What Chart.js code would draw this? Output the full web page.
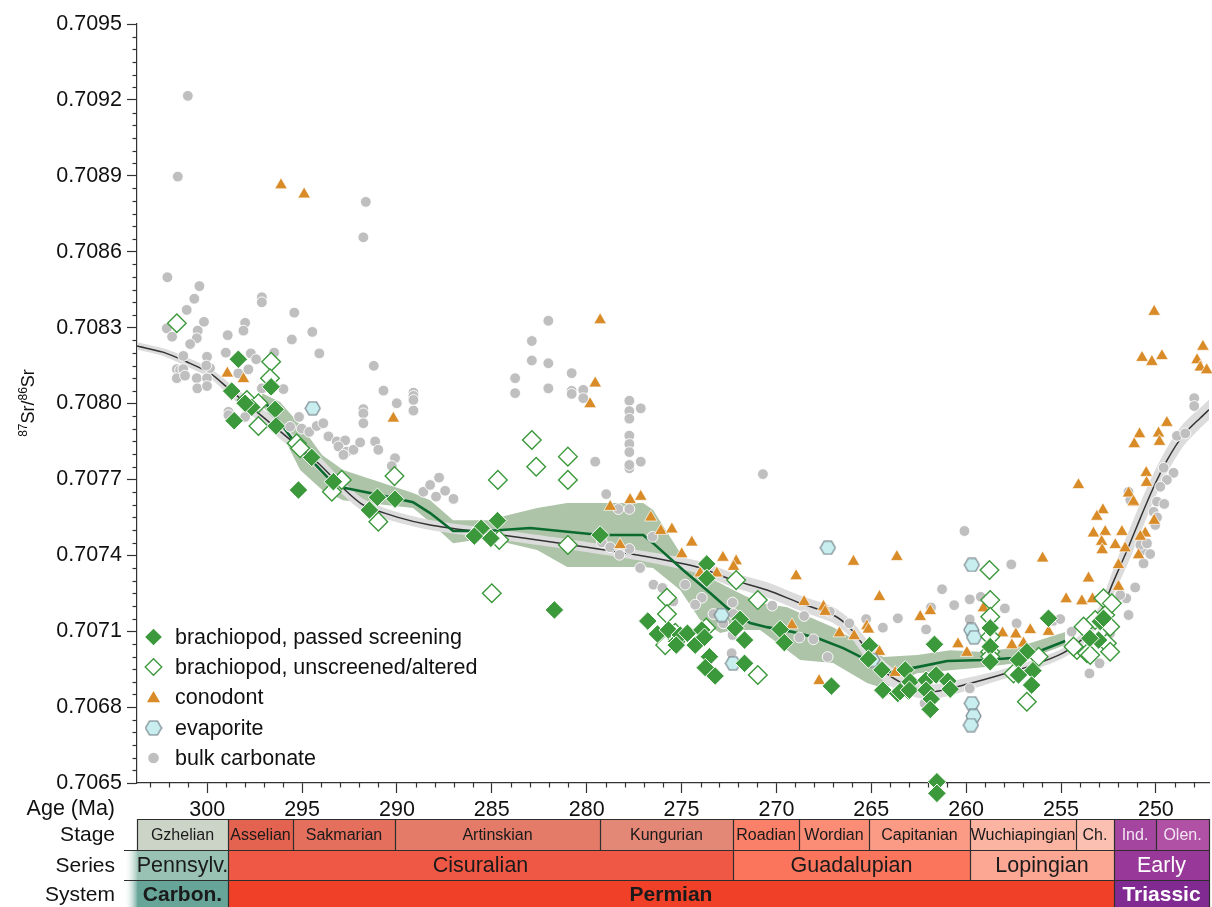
<!DOCTYPE html>
<html>
<head>
<meta charset="utf-8">
<title>Permian seawater 87Sr/86Sr</title>
<script src="https://cdn.jsdelivr.net/npm/chart.js@4.4.0/dist/chart.umd.min.js"></script>
<style>
  html, body { margin: 0; padding: 0; background: #ffffff; }
  #wrap { width: 1212px; height: 907px; position: relative; }
  canvas { display: block; }
</style>
</head>
<body>
<div id="wrap"><canvas id="c" width="1212" height="907"></canvas></div>
<script>
// ---- axis ticks ----
const xTickLabels = [300, 295, 290, 285, 280, 275, 270, 265, 260, 255, 250];
const yTickLabels = ['0.7065', '0.7068', '0.7071', '0.7074', '0.7077', '0.7080', '0.7083', '0.7086', '0.7089', '0.7092', '0.7095'];
const ageMin = 247.2, ageMax = 303.7;

// ---- geologic time scale (Ma) ----
const stageNames  = ['Gzhelian', 'Asselian', 'Sakmarian', 'Artinskian', 'Kungurian', 'Roadian', 'Wordian', 'Capitanian', 'Wuchiapingian', 'Ch.', 'Ind.', 'Olen.'];
const stageBounds = [303.7, 298.9, 295.5, 290.1, 279.3, 272.3, 268.8, 265.1, 259.8, 254.2, 252.2, 250.0, 247.2];
const seriesNames  = ['Pennsylv.', 'Cisuralian', 'Guadalupian', 'Lopingian', 'Early'];
const seriesBounds = [303.7, 298.9, 272.3, 259.8, 252.2, 247.2];
const systemNames  = ['Carbon.', 'Permian', 'Triassic'];
const systemBounds = [303.7, 298.9, 252.2, 247.2];

// ---- samples: [age Ma, 87Sr/86Sr] ----
const brachiopodPassed = [
  [298.36,0.708175],[298.71,0.708049],[296.63,0.708066],[297.65,0.707985],[298.00,0.708001],[296.42,0.707977],
  [298.58,0.707932],[296.37,0.707911],[294.49,0.707787],[295.19,0.707658],[293.35,0.707691],[291.03,0.707629],
  [290.10,0.707622],[291.45,0.707579],[284.70,0.707537],[285.56,0.707507],[285.05,0.707467],[285.92,0.707476],
  [279.29,0.707480],[281.70,0.707184],[273.67,0.707366],[273.67,0.707309],[276.78,0.707140],[276.27,0.707089],
  [275.69,0.707105],[275.25,0.707059],[275.07,0.707085],[274.69,0.707092],[274.28,0.707045],[273.93,0.707105],
  [273.79,0.707076],[275.28,0.707045],[271.91,0.707147],[272.17,0.707112],[271.68,0.707065],[273.53,0.706999],
  [273.75,0.706956],[273.23,0.706923],[271.68,0.706973],[269.80,0.707107],[269.58,0.707055],[265.09,0.707043],
  [265.15,0.706990],[264.44,0.706947],[264.39,0.706867],[263.60,0.706854],[267.10,0.706883],[263.21,0.706947],
  [262.95,0.706900],[263.48,0.706861],[262.99,0.706867],[262.11,0.706906],[261.58,0.706927],[262.11,0.706867],
  [261.84,0.706832],[261.89,0.706791],[260.96,0.706903],[260.84,0.706871],[261.54,0.706505],[261.54,0.706459],
  [261.67,0.707048],[258.73,0.707113],[258.73,0.707039],[258.73,0.706979],[256.80,0.707019],[257.24,0.706986],
  [256.48,0.706944],[257.24,0.706927],[256.55,0.706887],[255.66,0.707151],[252.93,0.707138],[253.02,0.707065],
  [253.48,0.707072],[252.76,0.707151]
];
const brachiopodUnscreened = [
  [301.60,0.708317],[296.63,0.708165],[296.69,0.708100],[297.91,0.708014],[297.30,0.708001],[297.30,0.707911],
  [295.28,0.707843],[295.10,0.707823],[293.43,0.707651],[292.91,0.707698],[290.13,0.707713],[290.98,0.707533],
  [282.89,0.707856],[284.68,0.707698],[282.66,0.707750],[280.99,0.707790],[280.99,0.707698],[280.99,0.707441],
  [285.00,0.707250],[284.61,0.707461],[275.77,0.707232],[275.77,0.707168],[275.86,0.707045],[275.33,0.707094],
  [274.19,0.707065],[273.70,0.707114],[272.12,0.707302],[270.98,0.707223],[270.98,0.706927],[258.77,0.707342],
  [258.73,0.707223],[258.73,0.707157],[258.73,0.707078],[258.73,0.707019],[258.73,0.706999],[263.04,0.706870],
  [256.80,0.706821],[257.50,0.706933],[256.18,0.706999],[252.76,0.707230],[254.16,0.707026],[253.63,0.707013],
  [252.58,0.707052],[252.41,0.707019],[252.67,0.707164],[253.20,0.707144],[252.32,0.707210],[253.81,0.707118],
  [252.41,0.707118],[254.34,0.707039],[253.46,0.707006]
];
const conodont = [
  [296.11,0.708863],[294.89,0.708827],[298.94,0.708119],[298.09,0.708097],[290.19,0.707941],[279.29,0.708330],
  [279.55,0.708080],[279.82,0.707998],[278.76,0.707592],[277.71,0.707619],[277.15,0.707632],[276.62,0.707550],
  [276.09,0.707497],[275.51,0.707503],[274.46,0.707451],[274.99,0.707405],[278.24,0.707441],[274.02,0.707329],
  [273.14,0.707329],[272.82,0.707391],[272.12,0.707377],[272.26,0.707355],[268.96,0.707318],[265.94,0.707375],
  [263.65,0.707394],[268.54,0.707216],[267.52,0.707197],[267.43,0.707177],[264.57,0.707236],[269.18,0.707124],
  [266.68,0.707092],[265.90,0.707081],[265.23,0.707120],[265.15,0.707107],[264.57,0.707019],[267.75,0.706904],
  [263.74,0.706936],[261.89,0.707180],[262.42,0.707157],[260.43,0.707049],[259.96,0.707015],[255.97,0.707388],
  [254.73,0.707227],[253.90,0.707219],[253.34,0.707227],[258.08,0.707092],[257.38,0.707088],[256.62,0.707105],
  [257.59,0.707045],[256.98,0.707052],[255.66,0.707098],[259.09,0.707191],[253.55,0.707309],[251.97,0.707362],
  [251.97,0.707276],[252.79,0.707579],[253.11,0.707553],[253.29,0.707487],[252.67,0.707493],[251.79,0.707493],
  [252.86,0.707454],[252.83,0.707421],[252.14,0.707441],[251.62,0.707428],[251.18,0.707608],[250.91,0.707401],
  [250.56,0.707487],[250.09,0.708363],[250.73,0.708181],[250.21,0.708165],[249.68,0.708188],[247.52,0.708225],
  [247.83,0.708172],[247.66,0.708143],[247.32,0.708132],[249.42,0.707924],[250.86,0.707879],[251.14,0.707840],
  [249.86,0.707882],[249.81,0.707849],[254.08,0.707678],[250.51,0.707726],[250.49,0.707687],[251.44,0.707645],
  [251.18,0.707612],[250.09,0.707537],[250.82,0.707474]
];
const evaporite = [
  [294.44,0.707981],[267.29,0.707430],[272.88,0.707164],[272.29,0.706973],[259.70,0.707362],[259.73,0.707105],
  [259.58,0.707076],[259.70,0.706815],[259.61,0.706765],[259.75,0.706729],[264.95,0.706986]
];
const bulkCarbonate = [
  [301.02,0.709216],[301.55,0.708897],[291.64,0.708797],[291.77,0.708657],[302.10,0.708499],[300.41,0.708464],
  [300.68,0.708414],[301.08,0.708370],[297.12,0.708420],[297.12,0.708400],[295.41,0.708359],[298.00,0.708319],
  [298.09,0.708288],[302.13,0.708297],[301.85,0.708264],[300.50,0.708288],[300.55,0.708258],[300.17,0.708323],
  [298.92,0.708270],[295.54,0.708253],[294.46,0.708283],[294.09,0.708198],[300.90,0.708235],[301.26,0.708188],
  [300.01,0.708185],[299.02,0.708201],[297.70,0.708198],[297.42,0.708175],[296.47,0.708201],[301.60,0.708136],
  [301.43,0.708132],[301.26,0.708136],[301.60,0.708100],[301.17,0.708110],[300.55,0.708100],[300.52,0.708060],
  [300.01,0.708100],[300.01,0.708069],[299.85,0.708140],[300.05,0.708150],[297.83,0.708135],[298.36,0.708119],
  [297.12,0.708060],[295.98,0.708057],[291.22,0.708149],[290.71,0.708051],[290.01,0.708001],[289.13,0.708043],
  [289.13,0.708030],[289.13,0.708014],[289.13,0.707972],[291.77,0.707978],[291.77,0.707961],[291.77,0.707922],
  [298.88,0.707967],[298.88,0.707954],[298.00,0.707947],[295.16,0.707947],[295.63,0.707908],[295.02,0.707901],
  [294.62,0.707888],[294.23,0.707911],[293.88,0.707922],[293.61,0.707870],[293.17,0.707850],[292.73,0.707854],
  [293.08,0.707830],[292.64,0.707810],[292.82,0.707797],[292.29,0.707817],[291.94,0.707846],[291.15,0.707850],
  [290.98,0.707817],[290.10,0.707784],[290.27,0.707753],[288.61,0.707651],[288.25,0.707678],
  [282.02,0.708327],[282.89,0.708247],[282.89,0.708170],[282.02,0.708159],[280.79,0.708120],[283.77,0.708100],
  [283.77,0.708041],[282.02,0.708060],[280.79,0.708050],[280.79,0.708038],[280.18,0.708054],[280.18,0.708021],
  [277.75,0.708011],[277.75,0.707970],[277.75,0.707940],[277.15,0.707981],[277.75,0.707873],[277.75,0.707840],
  [277.75,0.707808],[277.75,0.707744],[277.75,0.707757],[277.15,0.707770],[279.55,0.707770],[278.97,0.707642],
  [287.78,0.707707],[287.94,0.707632],[287.46,0.707655],[287.02,0.707623],[278.33,0.707583],[277.75,0.707583],
  [279.20,0.707451],[278.76,0.707432],[278.27,0.707402],[277.75,0.707425],[277.18,0.707350],[276.53,0.707473],
  [276.48,0.707284],[276.01,0.707271],[274.81,0.707284],[273.93,0.707232],[274.28,0.707205],[275.43,0.707218],
  [270.71,0.707721],[272.31,0.707213],[273.32,0.707168],[272.80,0.707131],[272.26,0.707168],[272.36,0.707013],
  [272.31,0.707085],[270.22,0.707201],[268.54,0.707160],[268.79,0.707075],[268.05,0.707068],[267.30,0.706998],
  [267.18,0.707177],[266.16,0.707131],[265.27,0.707148],[264.39,0.707114],[263.60,0.707151],
  [260.09,0.707496],[257.62,0.707364],[261.27,0.707266],[260.63,0.707203],[259.81,0.707226],[259.23,0.707236],
  [261.85,0.707194],[262.11,0.707107],[259.81,0.707147],[257.96,0.707190],[257.34,0.707131],[255.41,0.707141],
  [254.44,0.707098],[259.81,0.706874],[262.19,0.706815],[252.97,0.706973],[253.50,0.706933],[252.41,0.707092],
  [251.56,0.707230],[251.44,0.707164],[251.09,0.707273],[250.65,0.707421],[250.65,0.707447],
  [247.98,0.708021],[247.98,0.707990],[248.89,0.707872],[248.45,0.707882],[249.59,0.707746],[249.07,0.707726],
  [249.42,0.707698],[249.77,0.707671],[251.44,0.707651],[251.35,0.707619],[249.94,0.707612],[249.56,0.707603],
  [250.12,0.707572],[249.94,0.707550],[250.03,0.707520],[250.82,0.707441],[250.47,0.707447],[250.30,0.707405],
  [250.65,0.707368],[251.88,0.707243],[255.04,0.707148]
];

// ---- smoothed trend (all data) with confidence band ----
const lowessAge   = [303.70,302.33,301.06,299.85,298.79,297.05,295.79,294.21,292.84,291.78,289.99,288.25,285.25,281.40,277.34,274.18,272.28,270.49,268.75,267.01,266.11,265.22,264.16,262.58,261.52,259.94,258.20,256.47,254.88,253.83,252.93,252.25,251.51,250.82,250.14,249.40,248.56,247.66,247.20];
const lowessMid   = [0.708227,0.708203,0.708164,0.708120,0.708053,0.707946,0.707867,0.707769,0.707666,0.707599,0.707551,0.707520,0.707488,0.707448,0.707401,0.707354,0.707302,0.707263,0.707211,0.707164,0.707112,0.707025,0.706931,0.706867,0.706863,0.706891,0.706927,0.706966,0.707014,0.707073,0.707172,0.707294,0.707421,0.707547,0.707666,0.707777,0.707875,0.707943,0.707975];
const lowessUpper = [0.708242,0.708218,0.708182,0.708140,0.708078,0.707976,0.707897,0.707799,0.707694,0.707624,0.707571,0.707540,0.707508,0.707468,0.707421,0.707379,0.707330,0.707293,0.707241,0.707196,0.707147,0.707065,0.706971,0.706897,0.706891,0.706916,0.706947,0.706986,0.707034,0.707098,0.707207,0.707344,0.707481,0.707607,0.707721,0.707827,0.707920,0.707983,0.708015];
const lowessLower = [0.708212,0.708188,0.708146,0.708100,0.708028,0.707916,0.707837,0.707739,0.707638,0.707574,0.707531,0.707500,0.707468,0.707428,0.707381,0.707329,0.707274,0.707233,0.707181,0.707132,0.707077,0.706985,0.706891,0.706837,0.706835,0.706866,0.706907,0.706946,0.706994,0.707048,0.707137,0.707244,0.707361,0.707487,0.707611,0.707727,0.707830,0.707903,0.707935];

// ---- brachiopod-only curve with its band ----
const brachAge = [296.95,295.37,293.52,292.73,290.89,289.15,288.25,287.04,285.25,282.98,279.29,277.02,276.50,274.92,273.49,272.60,271.38,270.49,269.12,267.85,266.48,265.22,264.00,262.58,261.00,259.10,257.52,256.25,254.78];
const brachMid = [0.708006,0.707844,0.707697,0.707666,0.707638,0.707610,0.707567,0.707496,0.707496,0.707508,0.707480,0.707480,0.707448,0.707342,0.707251,0.707192,0.707132,0.707116,0.707097,0.707073,0.707033,0.706986,0.706938,0.706958,0.706982,0.706986,0.706994,0.707018,0.707061];
const brachBandAge   = [297.11,296.16,295.10,293.94,292.84,289.15,288.25,287.04,285.25,282.61,281.03,277.02,276.50,275.07,274.02,272.96,272.28,270.86,269.43,268.75,267.01,265.22,264.37,262.58,260.84,259.10,257.31,254.78];
const brachBandUpper = [0.708041,0.708006,0.707915,0.707796,0.707737,0.707646,0.707618,0.707539,0.707539,0.707587,0.707607,0.707607,0.707579,0.707409,0.707330,0.707290,0.707263,0.707211,0.707195,0.707172,0.707116,0.707037,0.706998,0.707006,0.707025,0.707018,0.707037,0.707097];
const brachBandLower = [0.707994,0.707895,0.707737,0.707658,0.707618,0.707587,0.707531,0.707448,0.707467,0.707421,0.707354,0.707354,0.707350,0.707263,0.707144,0.707093,0.707105,0.707105,0.707025,0.706986,0.706974,0.706895,0.706875,0.706934,0.706946,0.706958,0.706974,0.707045];

// ---- colours ----
const stageColors  = ['#ccd4c7','#e36350','#e36f5c','#e37b68','#e38776','#fb8069','#fb8d76','#fb9a85','#fcb4a2','#fcc0b2','#a4469f','#b051a5'];
const stageText    = ['#1a1a1a','#1a1a1a','#1a1a1a','#1a1a1a','#1a1a1a','#1a1a1a','#1a1a1a','#1a1a1a','#1a1a1a','#1a1a1a','#f2e6f2','#f2e6f2'];
const seriesColors = ['#99c2b5','#ef5845','#fb745c','#fba794','#983999'];
const seriesText   = ['#1a1a1a','#1a1a1a','#1a1a1a','#1a1a1a','#ffffff'];
const systemColors = ['#67a599','#f04028','#812b92'];
const systemText   = ['#1a1a1a','#1a1a1a','#ffffff'];

const GREEN = '#3b983b';
const ORANGE = '#d98b27';
const GREY = '#bfbfbf';
const FONT = "'Liberation Sans', Arial, Helvetica, sans-serif";
Chart.defaults.font.family = FONT;

const pairs = arr => arr.map(p => ({ x: p[0], y: p[1] }));
const zipXY = (xs, ys) => xs.map((x, i) => ({ x: x, y: ys[i] }));

// hexagon marker for evaporites
function hexMarker(w, h) {
  const c = document.createElement('canvas');
  c.width = w; c.height = h;
  const g = c.getContext('2d');
  const cx = w / 2, cy = h / 2, rx = w / 2 - 1, ry = h / 2 - 1;
  g.beginPath();
  g.moveTo(cx - rx, cy);
  g.lineTo(cx - rx / 2, cy - ry);
  g.lineTo(cx + rx / 2, cy - ry);
  g.lineTo(cx + rx, cy);
  g.lineTo(cx + rx / 2, cy + ry);
  g.lineTo(cx - rx / 2, cy + ry);
  g.closePath();
  g.fillStyle = '#c8eef0';
  g.fill();
  g.lineWidth = 1.1;
  g.strokeStyle = '#6c7a80';
  g.stroke();
  return c;
}
const hexImg = hexMarker(17, 15);
const hexLegend = hexMarker(18, 16);

// a wide hover radius keeps samples just past the frame from being culled
const datasets = [
  { label: 'brachiopod, passed screening', data: pairs(brachiopodPassed), pointStyle: 'rectRot', pointRadius: 9.3,
    pointHoverRadius: 16, backgroundColor: GREEN, borderColor: '#ffffff', borderWidth: 1, order: 0, clip: false },
  { label: 'brachiopod, unscreened/altered', data: pairs(brachiopodUnscreened), pointStyle: 'rectRot', pointRadius: 9.3,
    pointHoverRadius: 16, backgroundColor: '#ffffff', borderColor: GREEN, borderWidth: 1.4, order: 1, clip: false },
  { label: 'evaporite', data: pairs(evaporite), pointStyle: hexImg, pointHoverRadius: 16, order: 2, clip: false },
  { label: 'conodont', data: pairs(conodont), pointStyle: 'triangle', pointRadius: 7.3, pointHoverRadius: 16,
    backgroundColor: ORANGE, borderColor: 'rgba(255,255,255,0.85)', borderWidth: 0.8, order: 3, clip: false },
  { label: 'bulk carbonate', data: pairs(bulkCarbonate), pointStyle: 'circle', pointRadius: 5.4, pointHoverRadius: 16,
    backgroundColor: GREY, borderColor: '#ffffff', borderWidth: 0.9, order: 4, clip: false },
  // brachiopod curve
  { label: 'brach', data: zipXY(brachAge, brachMid), showLine: true, pointRadius: 0, borderColor: '#0b6a2e',
    borderWidth: 2.6, fill: false, order: 7 },
  // overall trend
  { label: 'trend', data: zipXY(lowessAge, lowessMid), showLine: true, pointRadius: 0, borderColor: '#333333',
    borderWidth: 1.5, tension: 0.25, fill: false, order: 8 },
  { label: 'trendLo', data: zipXY(lowessAge, lowessLower), showLine: true, pointRadius: 0, borderWidth: 0,
    borderColor: 'rgba(0,0,0,0)', tension: 0.25, fill: false, order: 9 },
  { label: 'trendHi', data: zipXY(lowessAge, lowessUpper), showLine: true, pointRadius: 0, borderWidth: 0,
    borderColor: 'rgba(0,0,0,0)', tension: 0.25, fill: '-1', backgroundColor: '#dcdcdc', order: 9 },
  { label: 'brachLo', data: zipXY(brachBandAge, brachBandLower), showLine: true, pointRadius: 0, borderWidth: 0,
    borderColor: 'rgba(0,0,0,0)', fill: false, order: 10 },
  { label: 'brachHi', data: zipXY(brachBandAge, brachBandUpper), showLine: true, pointRadius: 0, borderWidth: 0,
    borderColor: 'rgba(0,0,0,0)', fill: '-1', backgroundColor: '#adc4a8', order: 10 }
];

function line(ctx, x0, y0, x1, y1) {
  ctx.beginPath(); ctx.moveTo(x0, y0); ctx.lineTo(x1, y1); ctx.stroke();
}

// white page
const backdrop = {
  id: 'backdrop',
  beforeDraw(chart) {
    const ctx = chart.ctx;
    ctx.save();
    ctx.fillStyle = '#ffffff';
    ctx.fillRect(0, 0, chart.width, chart.height);
    ctx.restore();
  }
};

// minor ticks, axis title, legend and the time-scale columns
const decorations = {
  id: 'decorations',
  afterDraw(chart) {
    const ctx = chart.ctx;
    const area = chart.chartArea;
    const xs = chart.scales.x, ys = chart.scales.y;
    ctx.save();

    // minor ticks
    ctx.strokeStyle = '#333333';
    ctx.lineWidth = 1.2;
    for (let a = 248; a <= 303; a++) {
      if (a % 5 === 0) continue;
      const px = Math.round(xs.getPixelForValue(a)) + 0.5;
      line(ctx, px, area.bottom, px, area.bottom + 4.5);
    }
    for (let k = 0; k <= 60; k++) {
      if (k % 6 === 0) continue;
      const py = Math.round(ys.getPixelForValue(0.7065 + k * 0.00005)) + 0.5;
      line(ctx, area.left - 4.5, py, area.left, py);
    }

    // y axis title 87Sr/86Sr
    ctx.save();
    ctx.translate(34, 403);
    ctx.rotate(-Math.PI / 2);
    ctx.fillStyle = '#111111';
    ctx.textBaseline = 'alphabetic';
    const parts = [['87', 12, -7.5], ['Sr/', 18, 0], ['86', 12, -7.5], ['Sr', 18, 0]];
    let total = 0;
    parts.forEach(p => { ctx.font = p[1] + 'px ' + FONT; total += ctx.measureText(p[0]).width; });
    let cx = -total / 2;
    parts.forEach(p => {
      ctx.font = p[1] + 'px ' + FONT;
      ctx.fillText(p[0], cx, p[2]);
      cx += ctx.measureText(p[0]).width;
    });
    ctx.restore();

    // legend
    const legendRows = [
      ['passed', 'brachiopod, passed screening', 637],
      ['open', 'brachiopod, unscreened/altered', 667],
      ['tri', 'conodont', 697.5],
      ['hex', 'evaporite', 728],
      ['dot', 'bulk carbonate', 758]
    ];
    legendRows.forEach(r => {
      const mx = 153.5, my = r[2];
      ctx.beginPath();
      if (r[0] === 'passed' || r[0] === 'open') {
        const s = 8.3;
        ctx.moveTo(mx - s, my); ctx.lineTo(mx, my - s); ctx.lineTo(mx + s, my); ctx.lineTo(mx, my + s); ctx.closePath();
        if (r[0] === 'passed') { ctx.fillStyle = GREEN; ctx.fill(); }
        else { ctx.fillStyle = '#ffffff'; ctx.fill(); ctx.lineWidth = 1.3; ctx.strokeStyle = GREEN; ctx.stroke(); }
      } else if (r[0] === 'tri') {
        const s = 7.6;
        ctx.moveTo(mx, my - s + 1); ctx.lineTo(mx + s * 0.866, my + s * 0.5 + 1); ctx.lineTo(mx - s * 0.866, my + s * 0.5 + 1); ctx.closePath();
        ctx.fillStyle = ORANGE; ctx.fill();
      } else if (r[0] === 'hex') {
        ctx.drawImage(hexLegend, mx - hexLegend.width / 2, my - hexLegend.height / 2);
      } else {
        ctx.arc(mx, my, 5.3, 0, Math.PI * 2);
        ctx.fillStyle = GREY; ctx.fill();
      }
      ctx.fillStyle = '#111111';
      ctx.font = '21.5px ' + FONT;
      ctx.textAlign = 'left';
      ctx.textBaseline = 'middle';
      ctx.fillText(r[1], 175, my + 1);
    });

    // row captions
    ctx.fillStyle = '#111111';
    ctx.font = '21.5px ' + FONT;
    ctx.textAlign = 'right';
    ctx.textBaseline = 'middle';
    ctx.fillText('Age (Ma)', 115, 809);
    ctx.font = '21px ' + FONT;
    ctx.fillText('Stage', 115, 835);
    ctx.fillText('Series', 115, 866);
    ctx.fillText('System', 115, 895);

    // time-scale rows
    const rowTop = [819, 850, 880];
    const rowBot = [850, 880, 909];
    function drawRow(names, bounds, colors, textColors, top, bot, font, fade) {
      for (let i = 0; i < names.length; i++) {
        const x0 = Math.round(xs.getPixelForValue(bounds[i]));
        const x1 = Math.round(xs.getPixelForValue(bounds[i + 1]));
        ctx.fillStyle = colors[i];
        ctx.fillRect(x0, top, x1 - x0, bot - top);
        if (fade && i === 0) {
          const g = ctx.createLinearGradient(124, 0, x0 + 1, 0);
          g.addColorStop(0, 'rgba(255,255,255,0)');
          g.addColorStop(1, colors[0]);
          ctx.fillStyle = g;
          ctx.fillRect(124, top, x0 + 1 - 124, bot - top);
        }
        ctx.fillStyle = textColors[i];
        ctx.font = font;
        ctx.textAlign = 'center';
        ctx.textBaseline = 'middle';
        ctx.fillText(names[i], (x0 + x1) / 2, (top + bot) / 2 + 1);
      }
      ctx.strokeStyle = '#2e2e2e';
      ctx.lineWidth = 1.2;
      for (let i = fade ? 1 : 0; i < bounds.length; i++) {
        const px = Math.round(xs.getPixelForValue(bounds[i])) + 0.5;
        line(ctx, px, top, px, bot);
      }
      const xl = Math.round(xs.getPixelForValue(bounds[0]));
      const xr = Math.round(xs.getPixelForValue(bounds[bounds.length - 1]));
      line(ctx, fade ? 124 : xl, top + 0.5, xr, top + 0.5);
    }
    drawRow(stageNames, stageBounds, stageColors, stageText, rowTop[0], rowBot[0], '16px ' + FONT, false);
    drawRow(seriesNames, seriesBounds, seriesColors, seriesText, rowTop[1], rowBot[1], '21.5px ' + FONT, true);
    drawRow(systemNames, systemBounds, systemColors, systemText, rowTop[2], rowBot[2], 'bold 21px ' + FONT, true);
    // restore the stage/series dividing line over the faded edge
    ctx.strokeStyle = '#2e2e2e';
    line(ctx, Math.round(xs.getPixelForValue(stageBounds[0])), 850.5, Math.round(xs.getPixelForValue(ageMin)), 850.5);

    ctx.restore();
  }
};

// keep the plot frame exactly where it belongs, no label-driven padding
function fixPadding(s) {
  s.paddingLeft = 0; s.paddingRight = 0; s.paddingTop = 0; s.paddingBottom = 0;
}

new Chart(document.getElementById('c'), {
  type: 'scatter',
  data: { datasets: datasets },
  options: {
    responsive: false,
    animation: false,
    events: [],
    layout: { autoPadding: false, padding: { top: 24, right: 3, left: 0, bottom: 0 } },
    plugins: { legend: { display: false }, tooltip: { enabled: false } },
    scales: {
      x: {
        type: 'linear',
        reverse: true,
        min: ageMin,
        max: ageMax,
        afterBuildTicks: s => { s.ticks = xTickLabels.map(v => ({ value: v })); },
        afterFit: s => { s.height = 124; fixPadding(s); },
        ticks: { font: { size: 21.5 }, color: '#111111', padding: 4, maxRotation: 0, autoSkip: false,
          callback: v => String(v) },
        grid: { drawOnChartArea: false, drawTicks: true, tickLength: 10, tickWidth: 1.2, tickColor: '#333333' },
        border: { display: true, color: '#333333', width: 1.2 }
      },
      y: {
        type: 'linear',
        min: 0.7065,
        max: 0.7095,
        afterBuildTicks: s => { s.ticks = yTickLabels.map(v => ({ value: parseFloat(v) })); },
        afterFit: s => { s.width = 137; fixPadding(s); },
        ticks: { font: { size: 21.5 }, color: '#111111', padding: 5, autoSkip: false,
          callback: (v, i) => yTickLabels[i] },
        grid: { drawOnChartArea: false, drawTicks: true, tickLength: 10, tickWidth: 1.2, tickColor: '#333333' },
        border: { display: true, color: '#333333', width: 1.2 }
      }
    }
  },
  plugins: [backdrop, decorations]
});
</script>
</body>
</html>
